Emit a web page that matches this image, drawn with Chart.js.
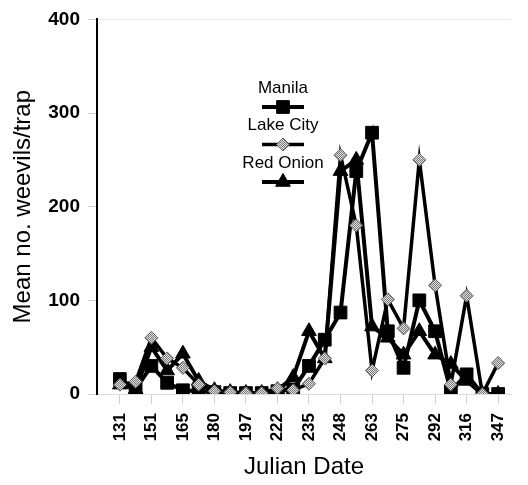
<!DOCTYPE html>
<html>
<head>
<meta charset="utf-8">
<script src="https://cdn.jsdelivr.net/npm/chart.js@4.4.1/dist/chart.umd.min.js"></script>
<style>
  html, body { margin: 0; padding: 0; background: #fff; }
  #wrap { width: 528px; height: 485px; }
</style>
</head>
<body>
<div id="wrap"><canvas id="weevilChart" width="528" height="485"></canvas></div>
<script>
// Julian dates shown on the x axis (every second sample is labelled)
const tickLabels = ['131', '151', '165', '180', '197', '222', '235', '248', '263', '275', '292', '316', '347'];

// Mean weevils per trap, one value per sampling date (25 dates)
const manila   = [16, 5, 30, 12, 4, 3, 2, 1, 1, 1, 3, 5, 30, 58, 87, 238, 279, 67, 28, 100, 67, 3, 21, 0, 0];
const lakeCity = [10, 13, 60, 38, 28, 10, 3, 2, 1, 1, 6, 4, 11, 38, 255, 180, 25, 101, 70, 250, 116, 10, 105, 0, 33];
const redOnion = [10, 5, 50, 25, 43, 14, 4, 2, 1, 1, 4, 18, 67, 38, 238, 250, 72, 60, 42, 67, 42, 32, 14, 0, 0];

const yTicks = [0, 100, 200, 300, 400];

const FONT = "'Liberation Sans', Arial, sans-serif";

// grey checkered fill used by the Lake City diamonds
function checkerFill(ctx) {
    const c = document.createElement('canvas');
    c.width = 2;
    c.height = 2;
    const g = c.getContext('2d');
    g.fillStyle = '#e0e0e0';
    g.fillRect(0, 0, 2, 2);
    g.fillStyle = '#7a7a7a';
    g.fillRect(0, 0, 1, 1);
    g.fillRect(1, 1, 1, 1);
    return ctx.createPattern(c, 'repeat');
}

const toPoints = (values) => values.map((v, i) => ({ x: i, y: v }));

// small legend drawn inside the plot: label above, line sample below
const legendInPlot = {
    id: 'legendInPlot',
    afterDatasetsDraw(chart) {
        const ctx = chart.ctx;
        const cx = 283;
        ctx.save();
        chart.data.datasets.forEach((ds, i) => {
            const ty = 88 + i * 37.5;
            const ly = ty + 19;
            ctx.fillStyle = '#000';
            ctx.font = '17px ' + FONT;
            ctx.textAlign = 'center';
            ctx.textBaseline = 'middle';
            ctx.fillText(ds.label, cx, ty);

            ctx.strokeStyle = '#000';
            ctx.lineWidth = ds.borderWidth;
            ctx.beginPath();
            ctx.moveTo(cx - 21, ly);
            ctx.lineTo(cx + 21, ly);
            ctx.stroke();

            ctx.fillStyle = ds.pointBackgroundColor;
            ctx.strokeStyle = ds.pointBorderColor;
            ctx.lineWidth = 1;
            const r = ds.pointRadius;
            ctx.beginPath();
            if (ds.pointStyle === 'rect') {
                const s = r * Math.SQRT1_2;
                ctx.rect(cx - s, ly - s, 2 * s, 2 * s);
            } else if (ds.pointStyle === 'rectRot') {
                ctx.moveTo(cx - r, ly);
                ctx.lineTo(cx, ly - r);
                ctx.lineTo(cx + r, ly);
                ctx.lineTo(cx, ly + r);
                ctx.closePath();
            } else {
                ctx.moveTo(cx, ly - r);
                ctx.lineTo(cx + r * Math.sin(2 * Math.PI / 3), ly - r * Math.cos(2 * Math.PI / 3));
                ctx.lineTo(cx - r * Math.sin(2 * Math.PI / 3), ly - r * Math.cos(2 * Math.PI / 3));
                ctx.closePath();
            }
            ctx.fill();
            ctx.stroke();
        });
        ctx.restore();
    }
};

const canvas = document.getElementById('weevilChart');
const ctx = canvas.getContext('2d');
const checker = checkerFill(ctx);

new Chart(ctx, {
    type: 'line',
    data: {
        datasets: [
            {
                label: 'Manila',
                data: toPoints(manila),
                borderColor: '#000',
                borderWidth: 4,
                pointStyle: 'rect',
                pointRadius: 9,
                pointBackgroundColor: '#000',
                pointBorderColor: '#000',
                pointBorderWidth: 1,
                tension: 0,
                order: 1,
            },
            {
                label: 'Lake City',
                data: toPoints(lakeCity),
                borderColor: '#000',
                borderWidth: 3.5,
                pointStyle: 'rectRot',
                pointRadius: 6.5,
                pointBackgroundColor: checker,
                pointBorderColor: '#555',
                pointBorderWidth: 1,
                tension: 0,
                order: 0,
            },
            {
                label: 'Red Onion',
                data: toPoints(redOnion),
                borderColor: '#000',
                borderWidth: 4,
                pointStyle: 'triangle',
                pointRadius: 8.5,
                pointBackgroundColor: '#000',
                pointBorderColor: '#000',
                pointBorderWidth: 1,
                tension: 0,
                order: 2,
            },
        ],
    },
    options: {
        responsive: false,
        animation: false,
        devicePixelRatio: 1,
        layout: { padding: { top: 16, right: 15, bottom: 0, left: 0 } },
        plugins: {
            legend: { display: false },
            tooltip: { enabled: false },
        },
        scales: {
            x: {
                type: 'linear',
                min: -1.45,
                max: 24.82,
                afterFit: (s) => { s.height = 91; },
                afterBuildTicks: (s) => {
                    s.ticks = tickLabels.map((_, k) => ({ value: k * 2 }));
                },
                ticks: {
                    autoSkip: false,
                    minRotation: 90,
                    maxRotation: 90,
                    padding: 9,
                    color: '#000',
                    font: { family: FONT, size: 17, weight: 'bold' },
                    callback: (value) => tickLabels[value / 2],
                },
                grid: { drawOnChartArea: false, tickColor: '#cfcfcf', tickLength: 10 },
                border: { color: '#dcdcdc', width: 1 },
                title: {
                    display: true,
                    text: 'Julian Date',
                    color: '#000',
                    font: { family: FONT, size: 24 },
                    padding: { top: 0, bottom: 3 },
                },
            },
            y: {
                min: 0,
                max: 400,
                afterFit: (s) => { s.width = 97; },
                afterBuildTicks: (s) => {
                    s.ticks = yTicks.map((v) => ({ value: v }));
                },
                ticks: {
                    padding: 8,
                    color: '#000',
                    font: { family: FONT, size: 19, weight: 'bold' },
                },
                grid: {
                    color: (c) => (c.tick && c.tick.value === 400 ? '#ececec' : 'rgba(0,0,0,0)'),
                    tickColor: '#d0d0d0',
                    tickLength: 9,
                },
                border: { color: '#000', width: 2 },
                title: {
                    display: true,
                    text: 'Mean no. weevils/trap',
                    color: '#000',
                    font: { family: FONT, size: 24 },
                    padding: { top: 9, bottom: 0 },
                },
            },
        },
    },
    plugins: [legendInPlot],
});
</script>
</body>
</html>
